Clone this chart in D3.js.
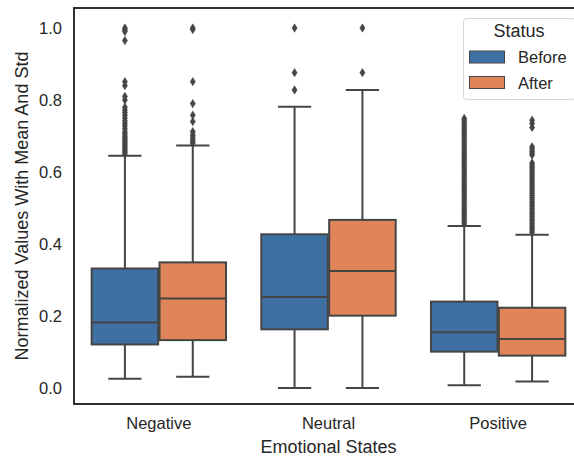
<!DOCTYPE html>
<html>
<head>
<meta charset="utf-8">
<script src="https://cdn.jsdelivr.net/npm/d3@7"></script>
<style>
  body { margin: 0; background: #fff; }
  svg { display: block; font-family: "Liberation Sans", Arial, sans-serif; }
</style>
</head>
<body>
<div id="chart"></div>
<script>
'use strict';

// categories and hue levels
const categories = ['Negative', 'Neutral', 'Positive'];
const statuses = ['Before', 'After'];
const yTicks = [0.0, 0.2, 0.4, 0.6, 0.8, 1.0];

// box statistics, one value per category
const beforeLow = [0.026, 0.0, 0.008];
const beforeQ1 = [0.121, 0.163, 0.101];
const beforeMed = [0.182, 0.253, 0.155];
const beforeQ3 = [0.332, 0.427, 0.240];
const beforeHigh = [0.645, 0.781, 0.450];

const afterLow = [0.031, 0.0, 0.018];
const afterQ1 = [0.133, 0.201, 0.090];
const afterMed = [0.249, 0.325, 0.136];
const afterQ3 = [0.349, 0.467, 0.223];
const afterHigh = [0.674, 0.828, 0.426];

// outliers
const negBeforeOut = [1.0, 0.995, 0.99, 0.965, 0.851, 0.84, 0.81, 0.80, 0.78, 0.772, 0.765, 0.758,
  0.75, 0.742, 0.735, 0.728, 0.72, 0.712, 0.706, 0.70, 0.695, 0.69, 0.685, 0.68, 0.675, 0.67,
  0.665, 0.66, 0.655, 0.65];
const negAfterOut = [1.0, 0.996, 0.851, 0.79, 0.758, 0.74, 0.712, 0.703, 0.697, 0.69, 0.685, 0.68];
const neuBeforeOut = [1.0, 0.876, 0.828];
const neuAfterOut = [1.0, 0.876];
const posBeforeOut = [0.749, 0.744, 0.738, 0.732, 0.726, 0.72, 0.714, 0.708, 0.702, 0.696, 0.69,
  0.684, 0.678, 0.672, 0.666, 0.66, 0.654, 0.648, 0.642, 0.636, 0.63, 0.624, 0.618, 0.612, 0.606,
  0.60, 0.594, 0.588, 0.582, 0.576, 0.57, 0.564, 0.558, 0.552, 0.546, 0.54, 0.534, 0.528, 0.522,
  0.516, 0.51, 0.504, 0.498, 0.492, 0.486, 0.48, 0.474, 0.468, 0.462, 0.456];
const posAfterOut = [0.744, 0.735, 0.724, 0.67, 0.664, 0.658, 0.652, 0.647, 0.625, 0.619, 0.613,
  0.607, 0.601, 0.595, 0.589, 0.583, 0.577, 0.571, 0.565, 0.559, 0.553, 0.547, 0.541, 0.535,
  0.529, 0.523, 0.517, 0.511, 0.505, 0.499, 0.493, 0.487, 0.481, 0.475, 0.469, 0.463, 0.457,
  0.451, 0.445, 0.439, 0.433];

const colors = {Before: '#3e70a3', After: '#e0855a'};
const lineColor = '#454545';

const width = 574, height = 459;
const margin = {top: 8, left: 74, right: 583, bottom: 404};

let svg = d3.select('#chart').append('svg')
    .attr('width', width)
    .attr('height', height);

// x: categorical band, y: linear
let x = d3.scaleBand()
    .domain(categories)
    .range([margin.left, margin.right])
    .paddingInner(0)
    .paddingOuter(0);

let hue = d3.scaleBand()
    .domain(statuses)
    .range([0.1 * x.bandwidth(), 0.9 * x.bandwidth()]);

let y = d3.scaleLinear()
    .domain([-0.0444, 1.0556])
    .range([margin.bottom, margin.top]);

// build a table from the arrays
let boxes = [];
categories.forEach(function(c, i) {
    boxes.push({cat: c, status: 'Before', lo: beforeLow[i], q1: beforeQ1[i], med: beforeMed[i],
        q3: beforeQ3[i], hi: beforeHigh[i]});
    boxes.push({cat: c, status: 'After', lo: afterLow[i], q1: afterQ1[i], med: afterMed[i],
        q3: afterQ3[i], hi: afterHigh[i]});
});

let outliers = [
    {cat: 'Negative', status: 'Before', values: negBeforeOut},
    {cat: 'Negative', status: 'After', values: negAfterOut},
    {cat: 'Neutral', status: 'Before', values: neuBeforeOut},
    {cat: 'Neutral', status: 'After', values: neuAfterOut},
    {cat: 'Positive', status: 'Before', values: posBeforeOut},
    {cat: 'Positive', status: 'After', values: posAfterOut}
];

const boxW = hue.bandwidth() * 0.98;
function cx(d) {
    return x(d.cat) + hue(d.status) + hue.bandwidth() / 2;
}

let plot = svg.append('g').attr('class', 'plot');

// whiskers
let g = plot.selectAll('g.box')
    .data(boxes)
    .enter()
    .append('g')
    .attr('class', 'box');

g.append('line')
    .attr('x1', cx).attr('x2', cx)
    .attr('y1', d => y(d.q3)).attr('y2', d => y(d.hi))
    .attr('stroke', lineColor).attr('stroke-width', 2);

g.append('line')
    .attr('x1', cx).attr('x2', cx)
    .attr('y1', d => y(d.q1)).attr('y2', d => y(d.lo))
    .attr('stroke', lineColor).attr('stroke-width', 2);

// caps
g.append('line')
    .attr('x1', d => cx(d) - boxW / 4).attr('x2', d => cx(d) + boxW / 4)
    .attr('y1', d => y(d.hi)).attr('y2', d => y(d.hi))
    .attr('stroke', lineColor).attr('stroke-width', 2);

g.append('line')
    .attr('x1', d => cx(d) - boxW / 4).attr('x2', d => cx(d) + boxW / 4)
    .attr('y1', d => y(d.lo)).attr('y2', d => y(d.lo))
    .attr('stroke', lineColor).attr('stroke-width', 2);

// boxes
g.append('rect')
    .attr('x', d => cx(d) - boxW / 2)
    .attr('width', boxW)
    .attr('y', d => y(d.q3))
    .attr('height', d => y(d.q1) - y(d.q3))
    .attr('fill', d => colors[d.status])
    .attr('stroke', lineColor)
    .attr('stroke-width', 2);

// medians
g.append('line')
    .attr('x1', d => cx(d) - boxW / 2).attr('x2', d => cx(d) + boxW / 2)
    .attr('y1', d => y(d.med)).attr('y2', d => y(d.med))
    .attr('stroke', lineColor).attr('stroke-width', 2);

// fliers as thin diamonds
let flierPts = [];
outliers.forEach(function(o) {
    o.values.forEach(function(v) {
        flierPts.push({cat: o.cat, status: o.status, v: v});
    });
});

plot.selectAll('path.flier')
    .data(flierPts)
    .enter()
    .append('path')
    .attr('class', 'flier')
    .attr('d', 'M0,-4.2 L2.6,0 L0,4.2 L-2.6,0 Z')
    .attr('transform', d => 'translate(' + cx(d) + ',' + y(d.v) + ')')
    .attr('fill', lineColor)
    .attr('stroke', lineColor)
    .attr('stroke-width', 0.5);

// axes
let yAxis = d3.axisLeft(y)
    .tickValues(yTicks)
    .tickFormat(d3.format('.1f'))
    .tickSize(0)
    .tickPadding(12);

let gY = svg.append('g')
    .attr('transform', 'translate(' + margin.left + ',0)')
    .call(yAxis);

let xAxis = d3.axisBottom(x)
    .tickSize(0)
    .tickPadding(13);

let gX = svg.append('g')
    .attr('transform', 'translate(0,' + margin.bottom + ')')
    .call(xAxis);

[gX, gY].forEach(function(a) {
    a.select('.domain').remove();
    a.selectAll('text')
        .attr('fill', '#262626')
        .style('font-size', '16.5px')
        .style('font-family', '"Liberation Sans", Arial, sans-serif');
});

// frame (right spine falls outside the picture)
svg.append('rect')
    .attr('x', margin.left)
    .attr('y', margin.top)
    .attr('width', margin.right - margin.left)
    .attr('height', margin.bottom - margin.top)
    .attr('fill', 'none')
    .attr('stroke', '#262626')
    .attr('stroke-width', 1.9);

// axis labels
svg.append('text')
    .attr('x', (margin.left + margin.right) / 2)
    .attr('y', 453)
    .attr('text-anchor', 'middle')
    .attr('fill', '#262626')
    .style('font-size', '18px')
    .text('Emotional States');

svg.append('text')
    .attr('transform', 'translate(28,' + (margin.top + margin.bottom) / 2 + ') rotate(-90)')
    .attr('text-anchor', 'middle')
    .attr('fill', '#262626')
    .style('font-size', '18px')
    .text('Normalized Values With Mean And Std');

// legend
let legend = svg.append('g').attr('class', 'legend');

legend.append('rect')
    .attr('x', 463.5)
    .attr('y', 18.5)
    .attr('width', 112)
    .attr('height', 81)
    .attr('rx', 3)
    .attr('fill', '#fff')
    .attr('fill-opacity', 0.8)
    .attr('stroke', '#d6d6d6')
    .attr('stroke-width', 1);

legend.append('text')
    .attr('x', 519)
    .attr('y', 37)
    .attr('text-anchor', 'middle')
    .attr('fill', '#262626')
    .style('font-size', '18px')
    .text('Status');

let item = legend.selectAll('g.item')
    .data(statuses)
    .enter()
    .append('g')
    .attr('class', 'item')
    .attr('transform', (d, i) => 'translate(0,' + (i * 25.5) + ')');

item.append('rect')
    .attr('x', 469.5)
    .attr('y', 51)
    .attr('width', 35)
    .attr('height', 12)
    .attr('fill', d => colors[d])
    .attr('stroke', lineColor)
    .attr('stroke-width', 1);

item.append('text')
    .attr('x', 518)
    .attr('y', 63)
    .attr('fill', '#262626')
    .style('font-size', '16.5px')
    .text(d => d);
</script>
</body>
</html>
